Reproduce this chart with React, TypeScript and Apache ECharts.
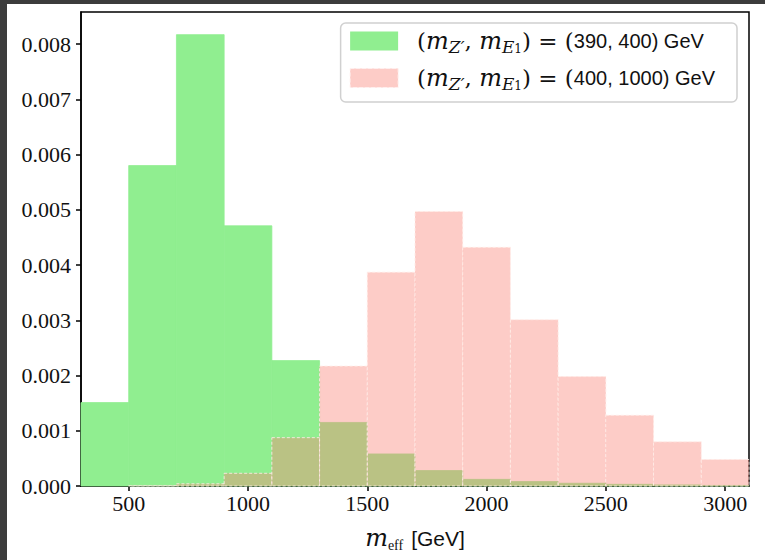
import React, { useEffect, useRef } from "react";
import * as echarts from "echarts";

const binEdges = [300, 500, 700, 900, 1100, 1300, 1500, 1700, 1900, 2100, 2300, 2500, 2700, 2900, 3100];
const greenValues = [0.00151, 0.0058, 0.00817, 0.00471, 0.00227, 0.00115, 0.00058, 0.00028, 0.00012, 0.00008, 0.00005, 0.00003, 0.00002, 0.00001];
const redValues = [0, 0.000005, 0.00004, 0.00023, 0.000875, 0.00217, 0.00387, 0.00497, 0.00432, 0.00301, 0.00198, 0.00128, 0.0008, 0.00048];
const xTicks = [500, 1000, 1500, 2000, 2500, 3000];
const yTicks = [0, 0.001, 0.002, 0.003, 0.004, 0.005, 0.006, 0.007, 0.008];
const greenName = "g";
const redName = "r";
const greenMasses = "390, 400) GeV";
const redMasses = "400, 1000) GeV";

const serif = "Liberation Serif";
const math = "DejaVu Serif";
const sans = "Liberation Sans";

const toData = (vals: number[]) => vals.map((v, i) => [binEdges[i], binEdges[i + 1], v]);

export default function App() {
  const ref = useRef<HTMLDivElement>(null);
  useEffect(() => {
    if (!ref.current) return;
    const chart = echarts.init(ref.current, null, { renderer: "svg" });
    const rich = {
      s: { fontFamily: math, fontSize: 23, lineHeight: 28, color: "#111" },
      i: { fontFamily: math, fontStyle: "italic", fontSize: 24, lineHeight: 28, color: "#111" },
      sub: { fontFamily: math, fontStyle: "italic", fontSize: 17, lineHeight: 14, verticalAlign: "bottom", color: "#111" },
      subp: { fontFamily: math, fontStyle: "italic", fontSize: 17, lineHeight: 14, verticalAlign: "bottom", color: "#111" },
      subsub: { fontFamily: math, fontSize: 12, lineHeight: 10, verticalAlign: "bottom", color: "#111" },
      eff: { fontFamily: serif, fontSize: 14, lineHeight: 14, verticalAlign: "bottom", color: "#111" },
      n: { fontFamily: sans, fontSize: 20, lineHeight: 28, color: "#111" },
      u: { fontFamily: sans, fontSize: 21, lineHeight: 28, color: "#111", padding: [0, 0, 0, 8] },
    };
    const label = (m: string) =>
      `{s|(}{i|m}{subp|Z′}{s|, }{i|m}{sub|E}{subsub|1}{s|) = (}{n|${m}}`;
    const makeRender = (fill: string, stroke: string, dashed: boolean, lw: number) => (params: any, api: any) => {
      const x0 = api.value(0);
      const x1 = api.value(1);
      const y = api.value(2);
      if (!y) return null;
      const p0 = api.coord([x0, y]);
      const p1 = api.coord([x1, 0]);
      return {
        type: "rect",
        shape: { x: p0[0], y: p0[1], width: p1[0] - p0[0], height: p1[1] - p0[1] },
        style: dashed
          ? { fill, stroke, lineWidth: lw, lineDash: [3, 2] }
          : { fill, stroke, lineWidth: lw },
      };
    };
    chart.setOption({
      animation: false,
      backgroundColor: "#fff",
      grid: {
        left: 74,
        top: 8,
        right: 16,
        bottom: 74,
        show: true,
        borderColor: "#000",
        borderWidth: 1.5,
        backgroundColor: "transparent",
      },
      legend: {
        right: 28,
        top: 19,
        orient: "vertical",
        align: "left",
        backgroundColor: "#fff",
        borderColor: "#d0d0d0",
        borderWidth: 1.5,
        borderRadius: 5,
        padding: [6, 22, 10, 9],
        itemWidth: 48,
        itemHeight: 19,
        itemGap: 11,
        icon: "rect",
        textStyle: { rich, padding: [0, 0, 0, 14] },
        formatter: (name: string) => (name === greenName ? label(greenMasses) : label(redMasses)),
        data: [
          { name: greenName, itemStyle: { color: "#90ee90" } },
          {
            name: redName,
            itemStyle: { color: "rgba(250,128,114,0.4)", borderColor: "rgba(255,240,238,0.9)", borderWidth: 1, borderType: "dashed" },
          },
        ],
      },
      xAxis: {
        type: "value",
        min: 300,
        max: 3100,
        splitLine: { show: false },
        axisLine: { show: true, onZero: false, lineStyle: { color: "#000", width: 1.5 } },
        axisTick: { show: true, length: 5, customValues: xTicks, lineStyle: { color: "#000", width: 1.5 } },
        axisLabel: {
          customValues: xTicks,
          margin: 6,
          fontFamily: serif,
          fontSize: 22,
          color: "#111",
          formatter: (v: number) => String(v),
        },
        name: "{i|m}{eff|eff}{u|[GeV]}",
        nameLocation: "middle",
        nameGap: 38,
        nameTextStyle: { rich },
      },
      yAxis: {
        type: "value",
        min: 0,
        max: 0.00858,
        splitLine: { show: false },
        axisLine: { show: true, lineStyle: { color: "#000", width: 1.5 } },
        axisTick: { show: true, length: 5, customValues: yTicks, lineStyle: { color: "#000", width: 1.5 } },
        axisLabel: {
          customValues: yTicks,
          margin: 10,
          fontFamily: serif,
          fontSize: 22,
          color: "#111",
          formatter: (v: number) => v.toFixed(3),
        },
      },
      series: [
        {
          name: greenName,
          type: "custom",
          renderItem: makeRender("#90ee90", "#90ee90", false, 0.8),
          encode: { x: [0, 1], y: 2 },
          itemStyle: { color: "#90ee90" },
          data: toData(greenValues),
          z: 2,
        },
        {
          name: redName,
          type: "custom",
          renderItem: makeRender("rgba(250,128,114,0.4)", "rgba(255,236,232,0.85)", true, 1),
          encode: { x: [0, 1], y: 2 },
          itemStyle: { color: "rgba(250,128,114,0.4)" },
          data: toData(redValues),
          z: 3,
        },
      ],
    });
    return () => chart.dispose();
  }, []);
  return (
    <div style={{ position: "fixed", left: 0, top: 0, width: 765, height: 560, background: "#3c3c3c" }}>
      <div ref={ref} style={{ position: "absolute", left: 7, top: 4, width: 758, height: 556 }} />
    </div>
  );
}
